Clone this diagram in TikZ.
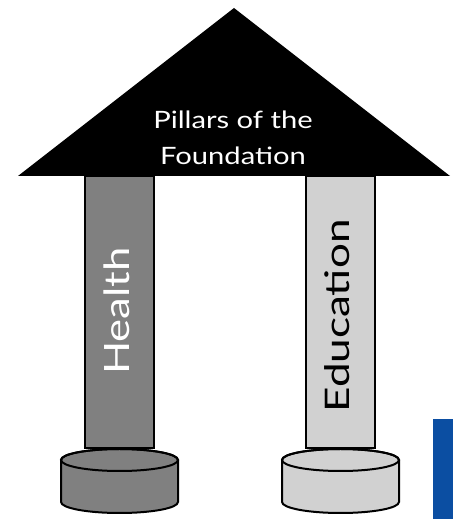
\documentclass[tikz,border=0pt]{standalone}
\usepackage{fontspec}
\setmainfont{Lato}
\usetikzlibrary{positioning}
\definecolor{pblue}{HTML}{0B4EA2}
\begin{document}
\begin{tikzpicture}[x=1bp, y=1bp,
	pillar/.style={rectangle, draw=black, line width=2bp, minimum width=69bp, minimum height=272bp, inner sep=0pt},
	lbl/.style={rotate=90, inner sep=0pt}]
	\useasboundingbox (0,0) rectangle (453,519);
	\fill[pblue] (433,0) rectangle (453,100);

	\node[pillar, fill=gray] (p1) at (119.5,207) {};
	\node[pillar, fill=black!18] (p2) at (340.5,207) {};
	\node[lbl, text=white, font=\fontsize{35}{35}\selectfont] (p1t) at (117,208) {\scalebox{1.25}[1]{Health}};
	\node[lbl, text=black, font=\fontsize{34}{34}\selectfont] (p2t) at (337,203) {\scalebox{1.3}[1]{Education}};

	% bases under the pillars
	\foreach \cx/\col in {119.5/gray, 340.5/black!18} {
		\draw[line width=2bp, fill=\col] (\cx-58.5,59) -- (\cx-58.5,17) arc[start angle=180, end angle=360, x radius=58.5, y radius=11] -- (\cx+58.5,59) arc[start angle=0, end angle=180, x radius=58.5, y radius=11] -- cycle;
		\draw[line width=2bp] (\cx,59) ellipse [x radius=58.5, y radius=11];
	}

	% roof
	\fill[black] (18,343) -- (234,511) -- (450,343) -- cycle;
	\node[text=white, align=center, font=\fontsize{24}{36}\selectfont] (roof) at (233,381) {\scalebox{1.22}[1]{Pillars of the}\\\scalebox{1.22}[1]{Foundation}};
\end{tikzpicture}
\end{document}
